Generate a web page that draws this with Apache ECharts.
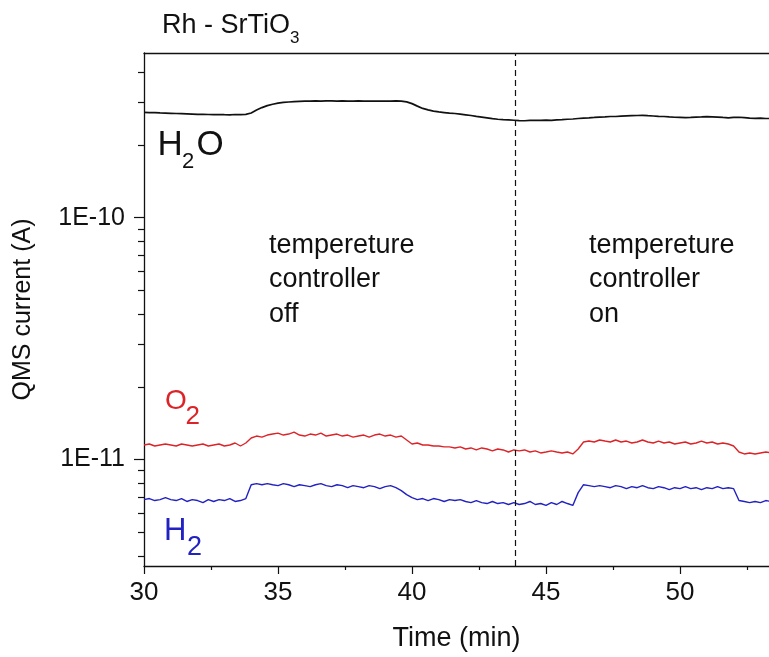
<!DOCTYPE html>
<html>
<head>
<meta charset="utf-8">
<script src="https://cdn.jsdelivr.net/npm/echarts@6/dist/echarts.min.js"></script>
<style>
html,body{margin:0;padding:0;background:#fff;}
#chart{width:769px;height:657px;}
</style>
</head>
<body>
<div id="chart"></div>
<script>
const times = [30.0,30.2,30.4,30.6,30.8,31.0,31.2,31.4,31.6,31.8,
32.0,32.2,32.4,32.6,32.8,33.0,33.2,33.4,33.6,33.8,
34.0,34.2,34.4,34.6,34.8,35.0,35.2,35.4,35.6,35.8,
36.0,36.2,36.4,36.6,36.8,37.0,37.2,37.4,37.6,37.8,
38.0,38.2,38.4,38.6,38.8,39.0,39.2,39.4,39.6,39.8,
40.0,40.2,40.4,40.6,40.8,41.0,41.2,41.4,41.6,41.8,
42.0,42.2,42.4,42.6,42.8,43.0,43.2,43.4,43.6,43.8,
44.0,44.2,44.4,44.6,44.8,45.0,45.2,45.4,45.6,45.8,
46.0,46.2,46.4,46.6,46.8,47.0,47.2,47.4,47.6,47.8,
48.0,48.2,48.4,48.6,48.8,49.0,49.2,49.4,49.6,49.8,
50.0,50.2,50.4,50.6,50.8,51.0,51.2,51.4,51.6,51.8,
52.0,52.2,52.4,52.6,52.8,53.0,53.2,53.4];

const h2o = [2.728e-10,2.723e-10,2.723e-10,2.713e-10,2.708e-10,2.703e-10,2.698e-10,2.693e-10,2.688e-10,2.683e-10,
2.677e-10,2.677e-10,2.672e-10,2.667e-10,2.672e-10,2.667e-10,2.665e-10,2.672e-10,2.667e-10,2.677e-10,
2.711e-10,2.787e-10,2.854e-10,2.908e-10,2.947e-10,2.978e-10,2.998e-10,3.010e-10,3.021e-10,3.030e-10,
3.035e-10,3.038e-10,3.041e-10,3.038e-10,3.044e-10,3.041e-10,3.038e-10,3.041e-10,3.035e-10,3.038e-10,
3.041e-10,3.035e-10,3.033e-10,3.038e-10,3.035e-10,3.033e-10,3.038e-10,3.041e-10,3.035e-10,3.015e-10,
2.964e-10,2.894e-10,2.832e-10,2.792e-10,2.761e-10,2.738e-10,2.723e-10,2.708e-10,2.698e-10,2.683e-10,
2.665e-10,2.647e-10,2.627e-10,2.608e-10,2.588e-10,2.568e-10,2.554e-10,2.544e-10,2.537e-10,2.530e-10,
2.520e-10,2.518e-10,2.525e-10,2.530e-10,2.525e-10,2.532e-10,2.527e-10,2.537e-10,2.544e-10,2.554e-10,
2.561e-10,2.573e-10,2.583e-10,2.590e-10,2.598e-10,2.608e-10,2.612e-10,2.622e-10,2.622e-10,2.632e-10,
2.637e-10,2.642e-10,2.647e-10,2.650e-10,2.642e-10,2.635e-10,2.627e-10,2.622e-10,2.612e-10,2.603e-10,
2.598e-10,2.593e-10,2.598e-10,2.608e-10,2.612e-10,2.617e-10,2.615e-10,2.608e-10,2.598e-10,2.590e-10,
2.598e-10,2.603e-10,2.593e-10,2.583e-10,2.578e-10,2.583e-10,2.573e-10,2.573e-10];

const o2 = [1.149e-11,1.160e-11,1.138e-11,1.149e-11,1.160e-11,1.149e-11,1.138e-11,1.160e-11,1.149e-11,1.138e-11,
1.149e-11,1.160e-11,1.138e-11,1.149e-11,1.160e-11,1.138e-11,1.149e-11,1.171e-11,1.138e-11,1.171e-11,
1.228e-11,1.251e-11,1.239e-11,1.263e-11,1.275e-11,1.287e-11,1.263e-11,1.275e-11,1.299e-11,1.263e-11,
1.251e-11,1.275e-11,1.263e-11,1.287e-11,1.251e-11,1.263e-11,1.275e-11,1.251e-11,1.263e-11,1.239e-11,
1.251e-11,1.263e-11,1.239e-11,1.263e-11,1.275e-11,1.251e-11,1.263e-11,1.239e-11,1.251e-11,1.205e-11,
1.160e-11,1.171e-11,1.149e-11,1.149e-11,1.138e-11,1.138e-11,1.128e-11,1.128e-11,1.117e-11,1.128e-11,
1.106e-11,1.117e-11,1.096e-11,1.117e-11,1.106e-11,1.086e-11,1.106e-11,1.096e-11,1.075e-11,1.096e-11,
1.086e-11,1.096e-11,1.075e-11,1.086e-11,1.065e-11,1.075e-11,1.086e-11,1.075e-11,1.065e-11,1.075e-11,
1.055e-11,1.106e-11,1.182e-11,1.193e-11,1.182e-11,1.205e-11,1.193e-11,1.182e-11,1.205e-11,1.182e-11,
1.193e-11,1.171e-11,1.182e-11,1.205e-11,1.182e-11,1.171e-11,1.193e-11,1.171e-11,1.182e-11,1.160e-11,
1.171e-11,1.182e-11,1.160e-11,1.171e-11,1.193e-11,1.171e-11,1.182e-11,1.160e-11,1.171e-11,1.160e-11,
1.138e-11,1.075e-11,1.055e-11,1.065e-11,1.055e-11,1.065e-11,1.075e-11,1.065e-11];

const h2 = [6.83e-12,6.90e-12,6.77e-12,6.83e-12,6.96e-12,6.83e-12,6.77e-12,6.90e-12,6.71e-12,6.83e-12,
6.77e-12,6.64e-12,6.83e-12,6.71e-12,6.83e-12,6.77e-12,6.90e-12,6.71e-12,6.77e-12,6.90e-12,
7.87e-12,7.95e-12,7.87e-12,7.95e-12,7.87e-12,7.80e-12,7.95e-12,7.87e-12,7.73e-12,7.87e-12,
7.80e-12,7.73e-12,7.87e-12,7.95e-12,7.80e-12,7.73e-12,7.87e-12,7.80e-12,7.65e-12,7.80e-12,
7.73e-12,7.65e-12,7.80e-12,7.73e-12,7.58e-12,7.73e-12,7.80e-12,7.65e-12,7.44e-12,7.16e-12,
6.96e-12,6.83e-12,6.90e-12,6.77e-12,6.90e-12,6.83e-12,6.71e-12,6.83e-12,6.77e-12,6.83e-12,
6.71e-12,6.64e-12,6.77e-12,6.64e-12,6.58e-12,6.71e-12,6.58e-12,6.64e-12,6.52e-12,6.64e-12,
6.52e-12,6.58e-12,6.71e-12,6.52e-12,6.58e-12,6.46e-12,6.64e-12,6.52e-12,6.71e-12,6.58e-12,
6.46e-12,7.30e-12,7.87e-12,7.80e-12,7.73e-12,7.80e-12,7.73e-12,7.65e-12,7.80e-12,7.73e-12,
7.58e-12,7.73e-12,7.65e-12,7.80e-12,7.65e-12,7.58e-12,7.73e-12,7.65e-12,7.51e-12,7.65e-12,
7.58e-12,7.73e-12,7.58e-12,7.65e-12,7.51e-12,7.65e-12,7.58e-12,7.73e-12,7.58e-12,7.65e-12,
7.58e-12,6.77e-12,6.71e-12,6.64e-12,6.71e-12,6.64e-12,6.77e-12,6.71e-12];

const xMajorTicks = [30, 35, 40, 45, 50];
const xMinorTicks = [32.5, 37.5, 42.5, 47.5, 52.5];
const yMajorTicks = [1e-11, 1e-10];
const yMinorTicks = [4e-12,5e-12,6e-12,7e-12,8e-12,9e-12,
  2e-11,3e-11,4e-11,5e-11,6e-11,7e-11,8e-11,9e-11,
  2e-10,3e-10,4e-10];
const switchTime = 43.87;
const xRange = [30, 53.32];
const yRange = [3.63e-12, 4.8e-10];

const FONT = '"Liberation Sans", Arial, Helvetica, sans-serif';
const INK = '#111';
const RED = '#dc2428';
const BLUE = '#2222c2';

function pairs(vals) { return times.map((t, i) => [t, vals[i]]); }

const chart = echarts.init(document.getElementById('chart'), null, {renderer: 'canvas'});

const axisLine = {show: true, lineStyle: {color: INK, width: 1.3}};

const option = {
  animation: false,
  backgroundColor: '#fff',
  grid: {left: 144, top: 53, width: 625, height: 517, containLabel: false},
  xAxis: [
    {
      type: 'value', min: xRange[0], max: xRange[1], position: 'bottom',
      axisLine: axisLine,
      axisTick: {show: true, length: 8, lineStyle: {color: INK, width: 1.2}, customValues: xMajorTicks},
      axisLabel: {show: true, customValues: xMajorTicks, fontSize: 26, fontFamily: FONT, color: INK, margin: 14},
      splitLine: {show: false},
      name: 'Time (min)', nameLocation: 'middle', nameGap: 59,
      nameTextStyle: {fontSize: 27, fontFamily: FONT, color: INK}
    },
    {
      type: 'value', min: xRange[0], max: xRange[1], position: 'bottom',
      axisLine: {show: false},
      axisTick: {show: true, length: 4, lineStyle: {color: INK, width: 1.2}, customValues: xMinorTicks},
      axisLabel: {show: false},
      splitLine: {show: false}
    },
    {
      type: 'value', min: xRange[0], max: xRange[1], position: 'top',
      axisLine: axisLine,
      axisTick: {show: false}, axisLabel: {show: false}, splitLine: {show: false}
    }
  ],
  yAxis: [
    {
      type: 'log', logBase: 10, min: yRange[0], max: yRange[1], position: 'left',
      axisLine: axisLine,
      axisTick: {show: true, length: 10, lineStyle: {color: INK, width: 1.2}, customValues: yMajorTicks},
      axisLabel: {show: true, customValues: yMajorTicks, fontSize: 25, fontFamily: FONT, color: INK, margin: 19,
        formatter: function (v) { const e = Math.round(Math.log10(v)); return '1E' + e; }},
      splitLine: {show: false}, minorTick: {show: false},
      name: 'QMS current (A)', nameLocation: 'middle', nameGap: 108,
      nameTextStyle: {fontSize: 25, fontFamily: FONT, color: INK}
    },
    {
      type: 'log', logBase: 10, min: yRange[0], max: yRange[1], position: 'left',
      axisLine: {show: false},
      axisTick: {show: true, length: 6, lineStyle: {color: INK, width: 1.2}, customValues: yMinorTicks},
      axisLabel: {show: false},
      splitLine: {show: false}
    }
  ],
  series: [
    {
      name: 'H2O', type: 'line', xAxisIndex: 0, yAxisIndex: 0, data: pairs(h2o),
      symbol: 'none', lineStyle: {color: INK, width: 1.7}, itemStyle: {color: INK}, z: 3,
      markLine: {
        silent: true, symbol: ['none', 'none'], label: {show: false},
        lineStyle: {color: INK, type: [6, 4], width: 1.2},
        data: [{xAxis: switchTime}]
      }
    },
    {
      name: 'O2', type: 'line', xAxisIndex: 0, yAxisIndex: 0, data: pairs(o2),
      symbol: 'none', lineStyle: {color: RED, width: 1.4}, itemStyle: {color: RED}, z: 3
    },
    {
      name: 'H2', type: 'line', xAxisIndex: 0, yAxisIndex: 0, data: pairs(h2),
      symbol: 'none', lineStyle: {color: BLUE, width: 1.4}, itemStyle: {color: BLUE}, z: 3
    }
  ],
  graphic: [
    {type: 'text', x: 162, y: 25.5, style: {text: 'Rh - SrTiO', font: '27px ' + FONT, fill: INK, align: 'left', verticalAlign: 'middle'}},
    {type: 'text', x: 290, y: 38.5, style: {text: '3', font: '17px ' + FONT, fill: INK, align: 'left', verticalAlign: 'middle'}},

    {type: 'text', x: 157.5, y: 145.5, style: {text: 'H', font: '35px ' + FONT, fill: INK, align: 'left', verticalAlign: 'middle'}},
    {type: 'text', x: 182, y: 162, style: {text: '2', font: '22px ' + FONT, fill: INK, align: 'left', verticalAlign: 'middle'}},
    {type: 'text', x: 196.5, y: 145.5, style: {text: 'O', font: '35px ' + FONT, fill: INK, align: 'left', verticalAlign: 'middle'}},

    {type: 'text', x: 165, y: 401.7, style: {text: 'O', font: '28px ' + FONT, fill: RED, align: 'left', verticalAlign: 'middle'}},
    {type: 'text', x: 185.5, y: 416.7, style: {text: '2', font: '26px ' + FONT, fill: RED, align: 'left', verticalAlign: 'middle'}},

    {type: 'text', x: 164, y: 531, style: {text: 'H', font: '31px ' + FONT, fill: BLUE, align: 'left', verticalAlign: 'middle'}},
    {type: 'text', x: 187, y: 547.3, style: {text: '2', font: '27px ' + FONT, fill: BLUE, align: 'left', verticalAlign: 'middle'}},

    {type: 'text', x: 269, y: 228, style: {text: 'tempereture\ncontroller\noff', font: '27px ' + FONT, lineHeight: 34.5, fill: INK, align: 'left', verticalAlign: 'top'}},
    {type: 'text', x: 589, y: 228, style: {text: 'tempereture\ncontroller\non', font: '27px ' + FONT, lineHeight: 34.5, fill: INK, align: 'left', verticalAlign: 'top'}}
  ]
};

chart.setOption(option);
</script>
</body>
</html>
